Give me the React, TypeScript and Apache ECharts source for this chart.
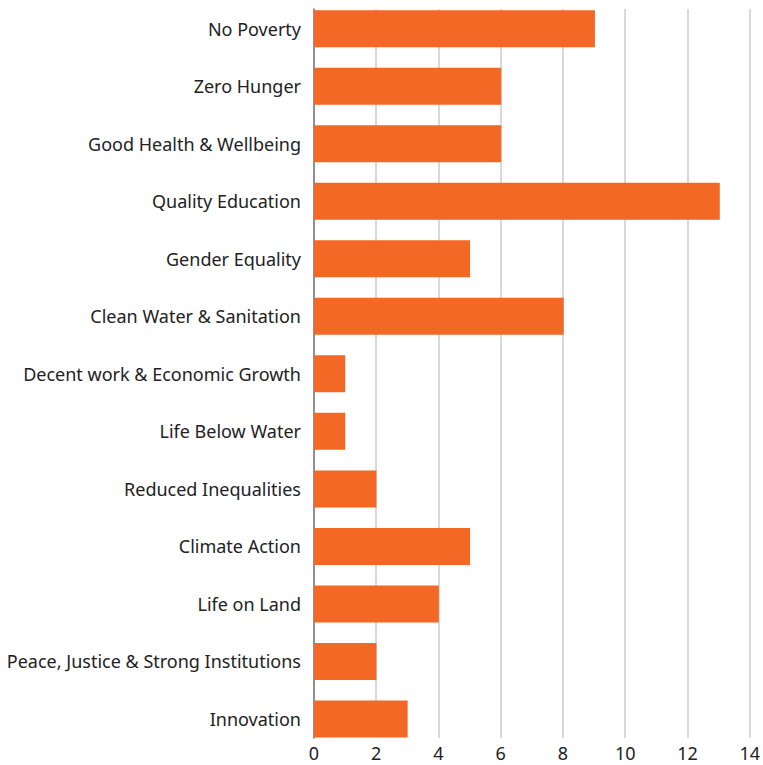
import React, { useEffect, useRef } from "react";
import * as echarts from "echarts";

const categories = [
  "No Poverty",
  "Zero Hunger",
  "Good Health & Wellbeing",
  "Quality Education",
  "Gender Equality",
  "Clean Water & Sanitation",
  "Decent work & Economic Growth",
  "Life Below Water",
  "Reduced Inequalities",
  "Climate Action",
  "Life on Land",
  "Peace, Justice & Strong Institutions",
  "Innovation",
];
const values = [9, 6, 6, 13, 5, 8, 1, 1, 2, 5, 4, 2, 3];
const xMin = 0;
const xMax = 14;
const xInterval = 2;

export default function App() {
  const ref = useRef<HTMLDivElement>(null);
  useEffect(() => {
    document.body.style.margin = "0";
    if (!ref.current) return;
    const chart = echarts.init(ref.current, undefined, { renderer: "svg" });
    const font = "Noto Sans";
    chart.setOption({
      animation: false,
      backgroundColor: "#ffffff",
      grid: [
        { left: 314, right: 12, top: -2, height: 749.7, containLabel: false },
        { left: 314, right: 12, top: 9, height: 729, containLabel: false },
      ],
      xAxis: [
        {
          gridIndex: 0,
          type: "value",
          min: xMin,
          max: xMax,
          interval: xInterval,
          show: false,
        },
        {
          gridIndex: 1,
          type: "value",
          min: xMin,
          max: xMax,
          interval: xInterval,
          axisLine: { show: false },
          axisTick: { show: false },
          axisLabel: { color: "#222", fontSize: 18, fontFamily: font, margin: 6 },
          splitLine: { show: true, lineStyle: { color: "#cccccc", width: 1.5 } },
        },
      ],
      yAxis: [
        {
          gridIndex: 0,
          type: "category",
          data: categories,
          inverse: true,
          axisLine: { show: false },
          axisTick: { show: false },
          axisLabel: { color: "#222", fontSize: 18, fontFamily: font, margin: 13 },
        },
        {
          gridIndex: 1,
          type: "category",
          data: categories,
          inverse: true,
          axisLine: { show: true, lineStyle: { color: "#777777", width: 1.5 } },
          axisTick: { show: false },
          axisLabel: { show: false },
        },
      ],
      series: [
        {
          type: "bar",
          xAxisIndex: 0,
          yAxisIndex: 0,
          data: values,
          barWidth: 37,
          itemStyle: { color: "#F36825" },
          z: 3,
        },
      ],
    });
    return () => chart.dispose();
  }, []);
  return <div ref={ref} style={{ width: 763, height: 765 }} />;
}
